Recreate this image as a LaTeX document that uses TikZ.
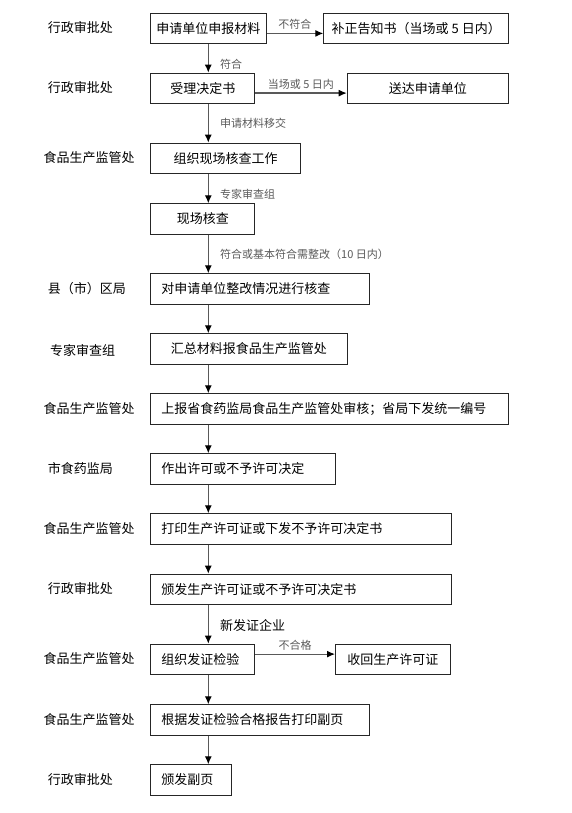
\documentclass[tikz,border=0pt]{standalone}
\usepackage{fontspec}
\newfontfamily\cjk{Noto Sans CJK SC}
\usetikzlibrary{arrows.meta}
\newcommand\boxfont{\cjk\fontsize{13}{15}\selectfont}
\newcommand\notefont{\cjk\fontsize{11}{13}\selectfont}

\begin{document}
\begin{tikzpicture}
        [x=1pt, y=-1pt,
        box/.style={draw=black!85, line width=0.9pt, anchor=north west, minimum height=30.5pt, inner xsep=2pt, font=\boxfont},
        boxl/.style={box, text width=#1, align=left, inner xsep=10.7pt},
        office/.style={anchor=west, font=\boxfont},
        flow/.style={draw=black!65, line width=1.2pt, -{Latex[length=8pt, width=7pt, black]}},
        elabel/.style={right, xshift=8pt, font=\notefont, text=black!65},
        hlabel/.style={midway, above, font=\notefont, text=black!65}]

        \useasboundingbox (0,0) rectangle (571,813);

        % main column of steps
        \node[box, minimum width=115.4pt] (apply) at (150.3,12.7) {申请单位申报材料};
        \node[box, minimum width=104pt] (accept) at (150.3,72.7) {受理决定书};
        \node[box, minimum width=149.7pt] (organize) at (150.3,142.7) {组织现场核查工作};
        \node[box, minimum width=104pt] (inspect) at (150.3,203.3) {现场核查};
        \node[boxl=197.6pt] (rectify) at (150.3,273.3) {对申请单位整改情况进行核查};
        \node[box, minimum width=196.4pt] (summary) at (150.3,333.3) {汇总材料报食品生产监管处};
        \node[boxl=336.6pt] (report) at (150.3,393.3) {上报省食药监局食品生产监管处审核；省局下发统一编号};
        \node[boxl=163.3pt] (decide) at (150.3,453.3) {作出许可或不予许可决定};
        \node[boxl=279pt] (print) at (150.3,513.3) {打印生产许可证或下发不予许可决定书};
        \node[boxl=279pt] (issue) at (150.3,573.7) {颁发生产许可证或不予许可决定书};
        \node[boxl=82.6pt] (test) at (150.3,643.7) {组织发证检验};
        \node[boxl=197.6pt] (copy) at (150.3,704.3) {根据发证检验合格报告打印副页};
        \node[boxl=59.3pt] (copyissue) at (150.3,764.3) {颁发副页};

        % side branches
        \node[box, minimum width=185pt] (fix) at (323.3,12.7) {补正告知书（当场或 5 日内）};
        \node[box, minimum width=161.6pt] (send) at (346.7,72.7) {送达申请单位};
        \node[box, minimum width=115pt] (recall) at (335,643.7) {收回生产许可证};

        % offices on the left
        \node[office] (o1) at (44.3,27.9) {行政审批处};
        \node[office] (o2) at (44.3,88) {行政审批处};
        \node[office] (o3) at (40,157.9) {食品生产监管处};
        \node[office] (o4) at (44.3,288.4) {县（市）区局};
        \node[office] (o5) at (46.7,350.5) {专家审查组};
        \node[office] (o6) at (40,408.5) {食品生产监管处};
        \node[office] (o7) at (44.3,468.5) {市食药监局};
        \node[office] (o8) at (40,528.5) {食品生产监管处};
        \node[office] (o9) at (44.3,589) {行政审批处};
        \node[office] (o10) at (40,659) {食品生产监管处};
        \node[office] (o11) at (40,719.5) {食品生产监管处};
        \node[office] (o12) at (44.3,779.5) {行政审批处};

        \coordinate (spine) at (208.3,0);

        % arrows down the column
        \draw[flow] (apply.south -| spine) -- (accept.north -| spine) node[elabel, pos=0.69] {符合};
        \draw[flow] (accept.south -| spine) -- (organize.north -| spine) node[elabel, pos=0.5] {申请材料移交};
        \draw[flow] (organize.south -| spine) -- (inspect.north -| spine) node[elabel, pos=0.7] {专家审查组};
        \draw[flow] (inspect.south -| spine) -- (rectify.north -| spine) node[elabel, pos=0.52] {符合或基本符合需整改（10 日内）};
        \draw[flow] (rectify.south -| spine) -- (summary.north -| spine);
        \draw[flow] (summary.south -| spine) -- (report.north -| spine);
        \draw[flow] (report.south -| spine) -- (decide.north -| spine);
        \draw[flow] (decide.south -| spine) -- (print.north -| spine);
        \draw[flow] (print.south -| spine) -- (issue.north -| spine);
        \draw[flow] (issue.south -| spine) -- (test.north -| spine) node[elabel, pos=0.53, text=black, font=\boxfont] {新发证企业};
        \draw[flow] (test.south -| spine) -- (copy.north -| spine);
        \draw[flow] (copy.south -| spine) -- (copyissue.north -| spine);

        % arrows to the side
        \draw[flow] ([yshift=-5pt]apply.east) -- ([yshift=-5pt]fix.west) node[hlabel] {不符合};
        \draw[flow] ([yshift=-4.7pt]accept.east) -- ([yshift=-4.7pt]send.west) node[hlabel] {当场或 5 日内};
        \draw[flow] ([yshift=5.3pt]test.east) -- ([yshift=5.3pt]recall.west) node[hlabel] {不合格};

    \end{tikzpicture}
\end{document}
